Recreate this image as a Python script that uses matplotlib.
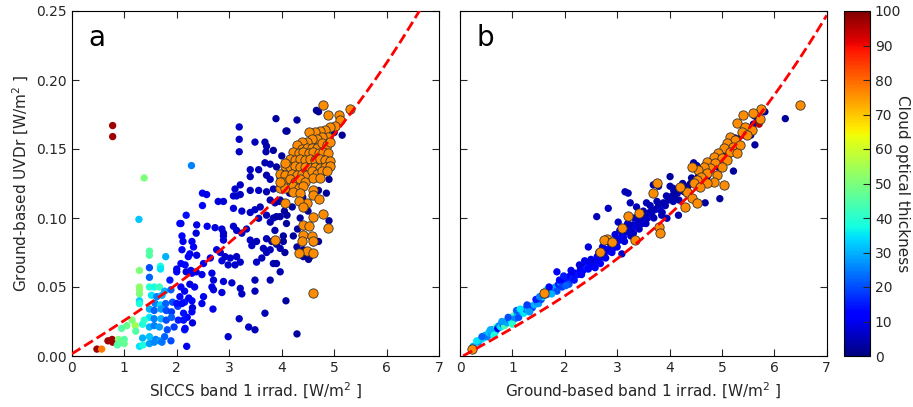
import matplotlib
matplotlib.use('Agg')
import matplotlib.pyplot as plt
import numpy as np

matplotlib.rcParams['xtick.labelsize'] = 10
matplotlib.rcParams['ytick.labelsize'] = 10
matplotlib.rcParams['xtick.direction'] = 'in'
matplotlib.rcParams['ytick.direction'] = 'in'

######## DATA ########
# panel a: SICCS band 1 vs ground UVDr, cloudy points (x, y, COT)
a_cloudy = [
    (0.78, 0.167, 97), (0.78, 0.159, 97), (0.48, 0.005, 97), (0.69, 0.011, 97), (0.77, 0.012, 97),
    (0.78, 0.010, 97), (0.57, 0.005, 78),
    (1.38, 0.129, 50), (1.28, 0.099, 32), (2.28, 0.138, 25),
    (1.48, 0.076, 45), (1.48, 0.073, 45), (1.29, 0.062, 50), (1.29, 0.050, 52), (1.29, 0.048, 52),
    (1.29, 0.045, 50), (1.29, 0.040, 33), (1.29, 0.038, 38),
    (1.48, 0.064, 20), (1.69, 0.065, 38), (1.69, 0.063, 35), (1.79, 0.072, 30), (1.48, 0.057, 22),
    (1.48, 0.050, 40), (1.57, 0.050, 38), (1.67, 0.050, 42), (1.77, 0.047, 30), (1.89, 0.048, 22),
    (1.52, 0.044, 35), (1.62, 0.043, 25), (1.72, 0.044, 30),
    (1.59, 0.038, 25), (1.69, 0.037, 33), (1.79, 0.038, 22), (1.92, 0.039, 20), (2.02, 0.036, 18), (2.15, 0.039, 15),
    (1.48, 0.034, 30), (1.57, 0.033, 22), (1.70, 0.034, 28), (1.80, 0.033, 20), (1.90, 0.032, 18),
    (1.48, 0.028, 35), (1.57, 0.027, 25), (1.70, 0.027, 30), (1.80, 0.026, 20), (1.90, 0.028, 22), (2.03, 0.026, 15),
    (1.35, 0.023, 38), (1.48, 0.021, 30), (1.57, 0.022, 25), (1.67, 0.021, 28), (1.82, 0.019, 20), (1.95, 0.021, 18),
    (2.15, 0.019, 15),
    (1.05, 0.022, 48), (1.21, 0.022, 55), (1.15, 0.026, 50), (0.95, 0.020, 45),
    (0.89, 0.012, 50), (0.92, 0.010, 48), (1.00, 0.012, 45), (1.00, 0.009, 47), (0.87, 0.008, 45),
    (1.35, 0.013, 30), (1.48, 0.014, 32), (1.60, 0.012, 25), (1.67, 0.011, 28), (1.77, 0.014, 22), (1.89, 0.011, 20),
    (1.29, 0.007, 35), (1.36, 0.008, 38), (1.48, 0.009, 28), (1.57, 0.010, 26), (1.72, 0.010, 24), (2.19, 0.007, 10),
    (1.38, 0.026, 40), (1.22, 0.018, 45),
    (2.08, 0.096, 10), (2.10, 0.087, 12), (2.12, 0.083, 10), (2.37, 0.089, 8), (2.29, 0.083, 10),
    (2.08, 0.067, 12), (2.00, 0.063, 10), (2.18, 0.061, 8), (2.27, 0.062, 10), (2.37, 0.061, 8),
    (2.08, 0.050, 12), (2.15, 0.047, 10), (2.25, 0.052, 8), (2.34, 0.050, 10),
    (2.23, 0.042, 10), (2.30, 0.035, 8), (2.20, 0.028, 12), (2.30, 0.024, 8),
    (3.89, 0.172, 3), (4.29, 0.171, 3), (4.10, 0.163, 3), (3.19, 0.166, 6), (3.19, 0.157, 6), (3.19, 0.148, 6),
    (3.49, 0.155, 5), (3.68, 0.155, 4), (3.71, 0.152, 4), (3.70, 0.148, 4), (3.84, 0.149, 3),
    (3.68, 0.140, 4), (3.78, 0.139, 5), (3.90, 0.137, 3), (3.40, 0.135, 6), (3.56, 0.135, 5),
    (3.40, 0.130, 5), (3.71, 0.131, 4), (3.78, 0.128, 5), (3.97, 0.129, 3),
    (3.21, 0.124, 6), (3.11, 0.121, 7), (3.40, 0.120, 5), (3.56, 0.120, 6), (3.71, 0.119, 4), (3.84, 0.121, 5),
    (2.49, 0.118, 10), (2.57, 0.117, 9), (2.49, 0.109, 11), (2.79, 0.112, 8), (2.89, 0.112, 8), (3.08, 0.116, 7),
    (3.21, 0.117, 6), (3.14, 0.116, 7),
    (3.08, 0.107, 8), (3.24, 0.105, 7), (3.40, 0.104, 6), (3.49, 0.106, 6), (3.59, 0.108, 5),
    (3.78, 0.113, 4), (3.87, 0.111, 4), (3.97, 0.113, 3),
    (3.71, 0.102, 5), (3.84, 0.100, 5), (3.97, 0.101, 4), (4.10, 0.102, 3),
    (3.56, 0.0998, 5), (3.78, 0.097, 5),
    (2.18, 0.102, 14), (2.06, 0.096, 12), (2.38, 0.095, 9), (2.58, 0.094, 9), (2.73, 0.093, 8),
    (2.86, 0.092, 8), (2.89, 0.089, 7), (2.89, 0.087, 7), (2.89, 0.084, 8),
    (3.08, 0.094, 7), (3.14, 0.091, 7), (3.24, 0.089, 6), (3.33, 0.092, 6),
    (3.40, 0.084, 6), (3.52, 0.083, 5), (3.71, 0.085, 5), (3.81, 0.083, 4), (3.90, 0.081, 4), (4.03, 0.083, 3),
    (3.43, 0.080, 6), (3.65, 0.078, 5), (3.78, 0.077, 5), (3.97, 0.078, 4), (4.06, 0.075, 3),
    (3.71, 0.075, 5), (3.62, 0.071, 5), (3.52, 0.068, 6), (3.84, 0.067, 4),
    (2.76, 0.077, 8), (2.83, 0.075, 8), (2.92, 0.072, 7), (3.02, 0.071, 7), (3.14, 0.072, 6),
    (2.86, 0.069, 8), (2.98, 0.066, 7), (3.11, 0.066, 7), (3.21, 0.068, 6),
    (2.64, 0.071, 9), (2.51, 0.067, 10),
    (2.32, 0.079, 11), (2.25, 0.074, 10), (2.38, 0.073, 9),
    (2.10, 0.077, 12), (2.22, 0.072, 12), (2.16, 0.066, 13), (2.00, 0.061, 12), (1.87, 0.055, 15),
    (2.29, 0.060, 10), (2.48, 0.059, 9), (2.67, 0.060, 9), (2.70, 0.055, 8), (2.89, 0.054, 8),
    (2.67, 0.050, 9), (2.70, 0.048, 8), (2.86, 0.046, 8), (3.05, 0.053, 7),
    (2.51, 0.043, 10), (2.48, 0.038, 10),
    (2.29, 0.040, 12), (2.29, 0.032, 12), (2.13, 0.031, 14), (2.06, 0.043, 13), (2.00, 0.038, 14), (2.10, 0.038, 13),
    (2.13, 0.026, 14), (2.16, 0.020, 13),
    (2.69, 0.034, 9), (3.21, 0.049, 6), (3.24, 0.045, 6), (3.49, 0.055, 5), (3.49, 0.047, 5), (3.78, 0.055, 4),
    (3.37, 0.021, 6), (3.49, 0.019, 5), (3.19, 0.027, 6), (3.68, 0.031, 5), (4.08, 0.040, 3), (2.98, 0.014, 7),
    (4.29, 0.016, 3),
    (4.70, 0.177, 2), (4.66, 0.178, 2), (4.08, 0.163, 3), (3.90, 0.101, 3), (4.09, 0.096, 3), (3.87, 0.091, 4),
    (4.03, 0.087, 3), (4.22, 0.087, 3), (4.29, 0.079, 3), (4.41, 0.077, 2), (4.54, 0.072, 2), (4.60, 0.082, 2),
    (4.70, 0.083, 2), (3.90, 0.067, 4), (3.97, 0.061, 4), (4.41, 0.072, 2), (4.51, 0.070, 2),
    (4.00, 0.145, 3), (4.10, 0.138, 3), (4.00, 0.125, 3), (4.15, 0.118, 3), (4.20, 0.108, 3), (4.35, 0.100, 3),
    (4.50, 0.105, 2), (4.90, 0.098, 2), (4.85, 0.118, 2), (4.90, 0.128, 2), (4.80, 0.145, 2), (5.00, 0.162, 2),
    (5.15, 0.160, 2), (4.40, 0.115, 3), (4.25, 0.130, 3), (4.60, 0.130, 2), (4.70, 0.120, 2), (3.95, 0.112, 4),
    (4.05, 0.105, 3), (4.30, 0.092, 3),
]

# panel a: cloud-free points (orange)
a_clear = [
    (4.79, 0.182), (5.30, 0.179), (4.89, 0.175), (5.09, 0.175), (5.11, 0.171), (5.02, 0.167),
    (4.92, 0.166), (4.83, 0.164), (4.73, 0.163), (4.63, 0.162), (4.51, 0.162),
    (4.89, 0.159), (4.76, 0.159), (4.67, 0.157), (4.57, 0.157), (4.48, 0.155), (4.38, 0.155), (4.29, 0.153),
    (4.38, 0.150), (4.48, 0.151), (4.57, 0.151), (4.67, 0.151), (4.76, 0.154), (4.86, 0.153), (4.92, 0.155),
    (4.22, 0.148), (4.32, 0.147), (4.41, 0.148), (4.51, 0.147), (4.60, 0.148), (4.70, 0.147), (4.79, 0.148),
    (4.89, 0.147),
    (4.16, 0.143), (4.25, 0.142), (4.35, 0.143), (4.45, 0.142), (4.54, 0.143), (4.64, 0.142), (4.73, 0.143),
    (4.83, 0.142), (4.91, 0.141),
    (4.06, 0.138), (4.16, 0.137), (4.25, 0.138), (4.35, 0.137), (4.45, 0.137), (4.54, 0.136), (4.64, 0.137),
    (4.73, 0.136), (4.83, 0.137), (4.91, 0.138),
    (3.97, 0.132), (4.06, 0.131), (4.19, 0.132), (4.29, 0.131), (4.38, 0.132), (4.48, 0.131), (4.57, 0.134),
    (4.67, 0.132), (4.76, 0.134), (4.86, 0.134),
    (4.03, 0.126), (4.16, 0.128), (4.25, 0.126), (4.35, 0.128), (4.45, 0.126), (4.60, 0.129), (4.73, 0.129),
    (3.97, 0.122), (4.06, 0.122), (4.22, 0.123), (4.32, 0.122), (4.41, 0.123),
    (4.22, 0.119), (4.35, 0.118), (4.60, 0.120), (4.60, 0.117),
    (4.70, 0.114), (4.48, 0.111), (4.32, 0.112), (4.06, 0.111), (4.41, 0.108),
    (4.60, 0.101), (4.79, 0.103), (4.89, 0.093), (4.41, 0.095), (4.51, 0.094), (4.41, 0.088), (4.57, 0.087),
    (4.38, 0.083), (4.60, 0.083), (4.48, 0.076), (4.60, 0.075), (4.32, 0.075), (3.87, 0.084),
    (4.60, 0.046), (3.97, 0.126), (4.06, 0.140),
]

# panel b: ground-based band 1 vs ground UVDr, cloudy points (x, y, COT)
b_cloudy = [
    (0.25, 0.007, 30), (0.35, 0.010, 28), (0.40, 0.012, 32), (0.45, 0.013, 35), (0.48, 0.015, 30),
    (0.52, 0.014, 25), (0.55, 0.017, 32), (0.60, 0.016, 28), (0.62, 0.019, 22), (0.68, 0.018, 30),
    (0.70, 0.021, 40), (0.72, 0.020, 8), (0.75, 0.022, 25), (0.78, 0.021, 35), (0.82, 0.023, 20),
    (0.85, 0.022, 45), (0.88, 0.025, 28), (0.90, 0.024, 30), (0.95, 0.026, 22), (0.98, 0.025, 35),
    (1.02, 0.029, 42), (1.05, 0.027, 25), (1.10, 0.030, 30), (1.12, 0.028, 20), (1.18, 0.032, 28),
    (1.22, 0.031, 35), (1.25, 0.034, 22), (1.30, 0.033, 30), (1.35, 0.036, 25), (1.38, 0.035, 18),
    (1.42, 0.037, 30), (1.48, 0.039, 22), (1.50, 0.038, 28), (1.55, 0.041, 20), (1.58, 0.043, 35),
    (1.62, 0.044, 25), (1.65, 0.048, 40), (1.68, 0.045, 18), (1.72, 0.047, 22), (1.78, 0.049, 15),
    (1.82, 0.050, 28), (1.85, 0.047, 20), (1.88, 0.052, 15), (1.92, 0.053, 25), (1.95, 0.050, 18),
    (2.00, 0.054, 12), (2.05, 0.056, 15), (2.08, 0.052, 20),
    (2.10, 0.058, 12), (2.15, 0.056, 15), (2.20, 0.060, 10), (2.25, 0.059, 14), (2.30, 0.063, 10),
    (2.35, 0.062, 12), (2.40, 0.066, 8), (2.42, 0.064, 15), (2.48, 0.068, 10), (2.52, 0.065, 12),
    (2.55, 0.069, 8), (2.60, 0.068, 10), (2.62, 0.072, 12), (2.66, 0.070, 9), (2.70, 0.074, 10),
    (2.75, 0.073, 8), (2.80, 0.077, 12), (2.85, 0.076, 9), (2.88, 0.080, 8), (2.92, 0.078, 10),
    (2.95, 0.082, 7), (2.98, 0.081, 12), (3.00, 0.085, 8),
    (3.05, 0.084, 9), (3.10, 0.088, 7), (3.12, 0.086, 10), (3.18, 0.090, 6), (3.22, 0.092, 8),
    (3.28, 0.090, 7), (3.30, 0.095, 5), (3.35, 0.094, 8), (3.40, 0.097, 6), (3.45, 0.099, 5),
    (3.48, 0.096, 7), (3.52, 0.101, 5), (3.58, 0.100, 6), (3.62, 0.104, 4), (3.66, 0.102, 6),
    (3.72, 0.106, 5), (3.78, 0.108, 4), (3.82, 0.106, 6), (3.88, 0.111, 4), (3.92, 0.109, 5), (3.98, 0.113, 4),
    (4.05, 0.116, 4), (4.10, 0.114, 3), (4.15, 0.118, 4), (4.22, 0.120, 3), (4.28, 0.119, 4),
    (4.35, 0.123, 3), (4.40, 0.125, 3), (4.48, 0.127, 2), (4.55, 0.130, 3), (4.60, 0.132, 2),
    (4.68, 0.134, 3), (4.75, 0.136, 2), (4.82, 0.139, 3), (4.88, 0.141, 2), (4.95, 0.144, 2),
    (5.02, 0.146, 3), (5.08, 0.149, 2), (5.15, 0.151, 2), (5.22, 0.154, 3), (5.30, 0.157, 2),
    (5.38, 0.160, 2), (5.45, 0.162, 3), (5.52, 0.165, 2), (5.60, 0.168, 2), (5.68, 0.172, 2),
    (0.32, 0.011, 35), (0.42, 0.014, 22), (0.58, 0.019, 30), (0.65, 0.015, 38), (0.80, 0.025, 28),
    (0.92, 0.028, 20), (1.00, 0.023, 40), (1.08, 0.033, 22), (1.15, 0.034, 35), (1.28, 0.037, 18),
    (1.33, 0.032, 28), (1.45, 0.041, 15), (1.52, 0.043, 25), (1.60, 0.046, 15), (1.70, 0.050, 12),
    (1.75, 0.045, 30), (1.90, 0.055, 12), (1.98, 0.058, 15), (2.02, 0.051, 22),
    (2.12, 0.062, 10), (2.18, 0.055, 14), (2.28, 0.066, 8), (2.32, 0.059, 12), (2.38, 0.069, 10),
    (2.45, 0.063, 12), (2.50, 0.070, 8), (2.58, 0.064, 12), (2.65, 0.075, 10), (2.68, 0.067, 12),
    (2.72, 0.079, 9), (2.78, 0.071, 10), (2.82, 0.083, 8), (2.90, 0.075, 10), (2.96, 0.088, 8),
    (3.00, 0.079, 10),
    (3.05, 0.091, 7), (3.14, 0.083, 8), (3.20, 0.096, 6), (3.26, 0.087, 7), (3.33, 0.100, 6),
    (3.42, 0.092, 6), (3.50, 0.105, 5), (3.55, 0.096, 6), (3.63, 0.109, 5), (3.70, 0.100, 5),
    (3.76, 0.112, 4), (3.86, 0.104, 5), (3.94, 0.116, 4),
    (4.08, 0.120, 3), (4.18, 0.113, 4), (4.25, 0.125, 3), (4.33, 0.118, 3), (4.42, 0.129, 3),
    (4.50, 0.124, 3), (4.62, 0.136, 2), (4.72, 0.130, 3), (4.85, 0.144, 2), (4.92, 0.137, 3),
    (5.05, 0.151, 2), (5.12, 0.145, 2), (5.25, 0.158, 2), (5.35, 0.152, 3), (5.45, 0.166, 2),
    (5.55, 0.160, 2), (5.62, 0.174, 2),
    (6.21, 0.172, 3), (5.82, 0.177, 2), (5.63, 0.153, 3), (5.22, 0.134, 3), (4.96, 0.114, 3),
    (4.68, 0.111, 3), (4.46, 0.140, 3), (4.52, 0.138, 3), (4.01, 0.123, 4), (4.07, 0.1215, 4),
    (4.17, 0.102, 4), (4.01, 0.130, 3), (3.69, 0.124, 4), (3.79, 0.123, 4), (3.15, 0.119, 5),
    (3.21, 0.118, 5), (3.25, 0.111, 5), (2.83, 0.107, 6), (2.61, 0.101, 5), (3.02, 0.097, 6),
    (3.31, 0.089, 6), (2.45, 0.079, 8), (3.09, 0.074, 7), (1.85, 0.061, 12), (3.37, 0.108, 5),
    (3.56, 0.111, 5), (3.85, 0.102, 5), (3.95, 0.0998, 5), (4.07, 0.112, 4),
    (5.71, 0.168, 95),
]

# panel b: cloud-free points (orange)
b_clear = [
    (6.49, 0.182), (5.74, 0.179), (5.60, 0.176), (5.41, 0.175), (5.73, 0.1715),
    (5.28, 0.1686), (5.44, 0.166), (5.57, 0.164), (5.38, 0.1626), (5.47, 0.160),
    (5.16, 0.159), (5.25, 0.1565), (5.09, 0.154), (5.22, 0.1517), (5.35, 0.153), (5.03, 0.1505),
    (5.16, 0.148), (5.28, 0.147),
    (4.93, 0.147), (4.84, 0.1444), (5.00, 0.1432), (5.09, 0.142), (4.71, 0.1408), (4.87, 0.1396),
    (5.00, 0.1372), (4.77, 0.136), (4.65, 0.1372), (4.55, 0.1348), (4.42, 0.1372), (4.71, 0.1324),
    (4.90, 0.1312), (4.61, 0.130), (4.52, 0.1275), (4.46, 0.1251), (4.84, 0.1263), (5.03, 0.1239),
    (4.71, 0.1251), (4.58, 0.1227), (4.33, 0.119), (4.42, 0.1143), (4.20, 0.1227), (4.30, 0.1082),
    (4.52, 0.1106), (3.76, 0.1251), (3.69, 0.1179), (3.41, 0.1034), (3.21, 0.1014), (3.09, 0.0925),
    (3.34, 0.084), (2.80, 0.0848), (2.74, 0.084), (2.67, 0.0756), (2.90, 0.0829), (3.79, 0.0937),
    (3.81, 0.0889), (1.60, 0.0454), (0.22, 0.0048),
]

# dashed reference curves (polynomial coefficients, highest order first)
curve_a = [0.000287, 0.000186, 0.02373, 0.0015]
curve_b = [0.000276, 0.000129, 0.02101, -0.0012]

panel_labels = ['a', 'b']
x_labels = ['SICCS band 1 irrad. [W/m$^2$ ]', 'Ground-based band 1 irrad. [W/m$^2$ ]']
y_label = 'Ground-based UVDr [W/m$^2$ ]'
cbar_label = 'Cloud optical thickness'
############################################

W, H = 913., 407.
fig = plt.figure(figsize=(W/100, H/100), dpi=100)
ax1 = fig.add_axes([71.7/W, 1-356/H, 367.6/W, 345/H])
ax2 = fig.add_axes([460/W, 1-356/H, 366.7/W, 345/H])
cax = fig.add_axes([843.5/W, 1-356/H, 26.5/W, 345/H])

panels = [(ax1, a_cloudy, a_clear, curve_a, 0.0), (ax2, b_cloudy, b_clear, curve_b, 0.06)]
for i, (ax, cloudy, clear, coefs, x0) in enumerate(panels):
    cx, cy, cc = np.array(cloudy).T
    sc = ax.scatter(cx, cy, c=cc, cmap='jet', vmin=0, vmax=100, s=28,
                    edgecolors='none', zorder=2)
    ox, oy = np.array(clear).T
    ax.scatter(ox, oy, c='darkorange', s=45, edgecolors='#333333',
               linewidths=0.6, zorder=3)
    xx = np.linspace(x0, 7, 300)
    ax.plot(xx, np.polyval(coefs, xx), 'r--', lw=2, zorder=4)

    ax.set_xlim(0, 7)
    ax.set_ylim(0, 0.25)
    ax.set_xticks(np.arange(0, 8, 1))
    ax.set_yticks(np.arange(0, 0.26, 0.05))
    ax.tick_params(top=True, right=True, length=5, colors='#262626')
    ax.set_xlabel(x_labels[i], fontsize=11, color='#262626')
    ax.text(0.045, 0.90, panel_labels[i], transform=ax.transAxes, fontsize=20)

ax1.set_yticklabels(['%.2f' % v for v in np.arange(0, 0.26, 0.05)])
ax1.set_ylabel(y_label, fontsize=11, color='#262626')
ax2.set_yticklabels([])

cb = fig.colorbar(sc, cax=cax, ticks=np.arange(0, 101, 10))
cb.ax.tick_params(direction='in', length=5, labelsize=10, colors='#262626')
cb.set_label(cbar_label, rotation=270, labelpad=6, fontsize=11, color='#262626')
cb.outline.set_linewidth(0.8)

fig.savefig('out.png', dpi=100)
